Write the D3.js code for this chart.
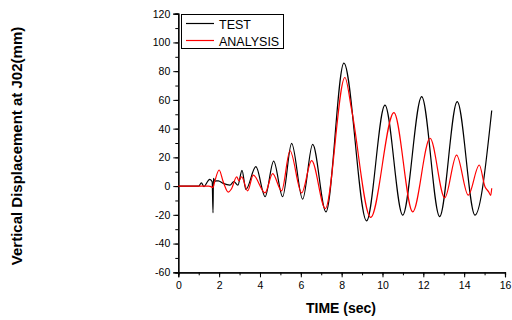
<!DOCTYPE html>
<html>
<head>
<meta charset="utf-8">
<script src="https://cdn.jsdelivr.net/npm/d3@7"></script>
<style>
  body { margin: 0; background: #fff; }
  svg { display: block; font-family: Arial, "Liberation Sans", sans-serif; }
</style>
</head>
<body>
<div id="chart"></div>
<script>
  // series: [time (sec), displacement (mm)]
  var testData = [
    [0, 0], [1.0, 0], [1.13, 2.3], [1.26, -0.3], [1.45, 3.5], [1.54, 4.7],
    [1.66, 3], [1.70, -18.6], [1.72, 5.4], [1.8, 3.5], [1.96, 3.7], [2.2, 1.9],
    [2.53, 0.7], [2.72, 3.2], [2.92, 0.7], [3.12, 11], [3.31, -2.3], [3.8, 13.5],
    [4.25, -7.4], [4.67, 17.4], [5.11, -7.4], [5.55, 29.8], [6.09, -9.1],
    [6.58, 29.1], [7.23, -17.9], [8.11, 85.6], [9.22, -24.2], [10.12, 56.3],
    [10.99, -20.2], [11.92, 62.3], [12.8, -21.2], [13.66, 58.8], [14.53, -20.2],
    [15.35, 52.6]
  ];

  var analysisData = [
    [0, 0], [1.5, 0], [1.62, -0.5], [1.7, -1], [1.78, 3], [2.0, 11.2],
    [2.2, 3], [2.45, -4.2], [2.6, -2], [2.86, 6.5], [2.97, 3.7], [3.1, 6.5],
    [3.4, -3.3], [3.67, 7.7], [4.25, -4.7], [4.62, 8.7], [5.06, -3.3],
    [5.47, 24.6], [6.04, -4.7], [6.53, 17.7], [7.2, -15.6], [8.16, 75.6],
    [8.49, 53], [9.42, -21.8], [10.56, 51.2], [11.48, -17.9], [12.33, 33.3],
    [13.05, -8.2], [13.63, 21.6], [14.2, -6.3], [14.74, 14.7], [15.02, -0.5],
    [15.2, -4], [15.3, -6.5], [15.35, -1.5]
  ];

  var seriesNames = ["TEST", "ANALYSIS"];
  var xTicks = [0, 2, 4, 6, 8, 10, 12, 14, 16];
  var yTicks = [-60, -40, -20, 0, 20, 40, 60, 80, 100, 120];

  var svg = d3.select("#chart").append("svg")
    .attr("width", 512)
    .attr("height", 320);

  var x = d3.scaleLinear().domain([0, 16]).range([178.3, 505]);
  var y = d3.scaleLinear().domain([-60, 120]).range([272.3, 13.7]);

  // plain hyphen for negatives, like the original
  var fmt = function(d) { return String(d); };

  // axes: major ticks plus one minor tick between them
  var xAxis = svg.append("g")
    .attr("transform", "translate(0," + y(-60) + ")");
  xAxis.call(d3.axisBottom(x).tickValues(d3.range(0, 17, 1)).tickSize(3).tickFormat(""));
  xAxis.append("g").call(d3.axisBottom(x).tickValues(xTicks).tickSize(5).tickPadding(4).tickFormat(fmt));

  var yAxis = svg.append("g")
    .attr("transform", "translate(" + x(0) + ",0)");
  yAxis.call(d3.axisLeft(y).tickValues(d3.range(-60, 121, 10)).tickSize(3).tickFormat(""));
  yAxis.append("g").call(d3.axisLeft(y).tickValues(yTicks).tickSize(5).tickPadding(3).tickFormat(fmt));

  svg.selectAll(".domain").attr("stroke", "#000").attr("stroke-width", 1.2);
  svg.selectAll(".tick line").attr("stroke", "#000");
  svg.selectAll(".tick text")
    .attr("fill", "#000")
    .style("font-size", "10.5px")
    .style("font-family", "Arial, 'Liberation Sans', sans-serif");

  var line = d3.line()
    .x(function(d) { return x(d[0]); })
    .y(function(d) { return y(d[1]); })
    .curve(d3.curveMonotoneX);

  svg.append("path")
    .datum(testData)
    .attr("fill", "none")
    .attr("stroke", "#000")
    .attr("stroke-width", 1.2)
    .attr("d", line);

  svg.append("path")
    .datum(analysisData)
    .attr("fill", "none")
    .attr("stroke", "#ff0000")
    .attr("stroke-width", 1.2)
    .attr("d", line);

  // legend
  var legend = svg.append("g");
  legend.append("rect")
    .attr("x", 181.5).attr("y", 14.5)
    .attr("width", 102).attr("height", 34)
    .attr("fill", "#fff")
    .attr("stroke", "#000");

  var colors = ["#000", "#ff0000"];
  seriesNames.forEach(function(name, i) {
    var ly = 23.5 + i * 17;
    legend.append("line")
      .attr("x1", 186).attr("x2", 214)
      .attr("y1", ly).attr("y2", ly)
      .attr("stroke", colors[i])
      .attr("stroke-width", 1.2);
    legend.append("text")
      .attr("x", 219).attr("y", ly + 5)
      .style("font-size", "12.5px")
      .text(name);
  });

  // axis titles
  svg.append("text")
    .attr("x", 341).attr("y", 313)
    .attr("text-anchor", "middle")
    .style("font-size", "14px")
    .style("font-weight", "bold")
    .text("TIME (sec)");

  svg.append("text")
    .attr("transform", "translate(22,146) rotate(-90)")
    .attr("text-anchor", "middle")
    .style("font-size", "15px")
    .style("font-weight", "bold")
    .text("Vertical Displacement at J02(mm)");
</script>
</body>
</html>
